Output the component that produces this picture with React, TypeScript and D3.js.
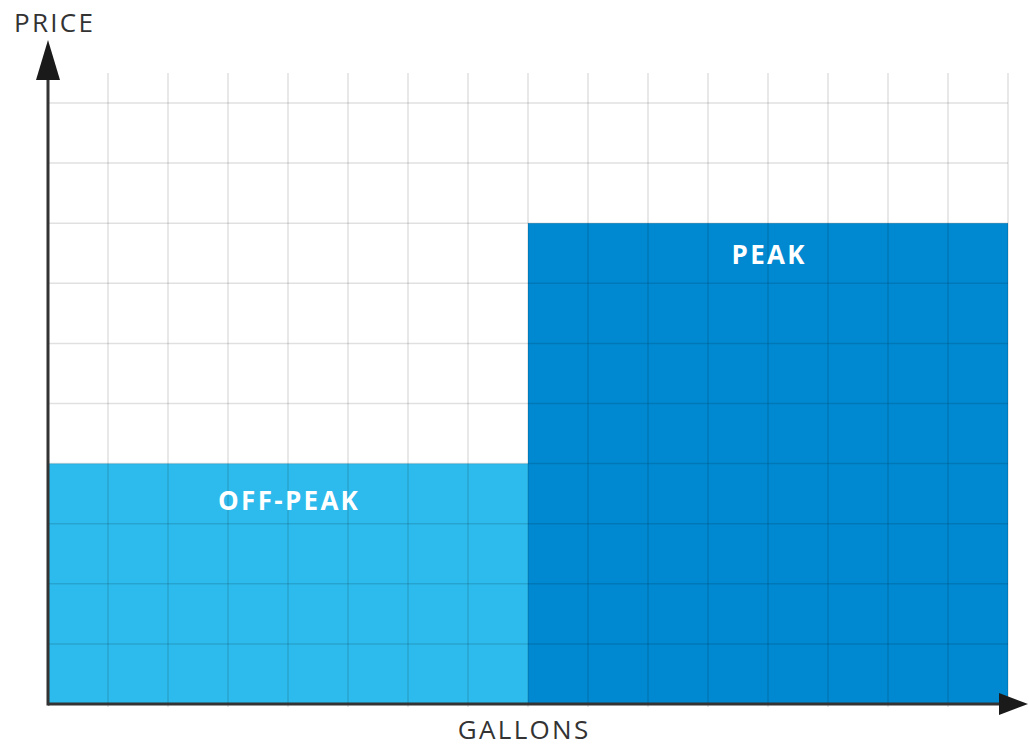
import React from "react";
import * as d3 from "d3";

// Tiered pricing: quantity (gallons) vs price per tier
const tierNames = ["OFF-PEAK", "PEAK"];
const tierStart = [0, 8];
const tierEnd = [8, 16];
const tierPrice = [4, 8];
const tierColors = ["#2DBAEC", "#0089D1"];

const xTicks = d3.range(1, 17);
const yTicks = d3.range(1, 11);

const W = 1029;
const H = 747;

export default function App() {
  const x = d3.scaleLinear().domain([0, 16]).range([48, 1008]);
  const y = d3.scaleLinear().domain([0, 10]).range([704, 103]);
  const font = "'Open Sans', 'Noto Sans', sans-serif";
  const ls = 2.3;

  return (
    <svg
      width={W}
      height={H}
      style={{ position: "absolute", left: 0, top: 0, background: "#fff" }}
    >
      {/* tier bars */}
      {tierNames.map((n, i) => (
        <rect
          key={n}
          x={x(tierStart[i])}
          y={y(tierPrice[i])}
          width={x(tierEnd[i]) - x(tierStart[i])}
          height={y(0) - y(tierPrice[i])}
          fill={tierColors[i]}
        />
      ))}

      {/* grid drawn over the bars */}
      {yTicks.map((t) => (
        <line
          key={"h" + t}
          x1={x(0)}
          x2={x(16)}
          y1={y(t)}
          y2={y(t)}
          stroke="rgba(0,0,0,0.12)"
          strokeWidth={1.5}
        />
      ))}
      {xTicks.map((t) => (
        <line
          key={"v" + t}
          x1={x(t)}
          x2={x(t)}
          y1={y(10.5)}
          y2={y(-0.05)}
          stroke="rgba(0,0,0,0.12)"
          strokeWidth={1.5}
        />
      ))}

      {/* tier labels */}
      {tierNames.map((n, i) => (
        <text
          key={"l" + n}
          x={x((tierStart[i] + tierEnd[i]) / 2) + ls / 2}
          y={y(tierPrice[i]) + (i === 0 ? 46 : 41)}
          textAnchor="middle"
          fill="#fff"
          fontFamily={font}
          fontWeight={700}
          fontSize={26}
          letterSpacing={ls}
        >
          {n}
        </text>
      ))}

      {/* axes */}
      <line x1={x(0)} x2={x(0)} y1={y(0) + 1.5} y2={78} stroke="#333" strokeWidth={3} />
      <line x1={x(0)} x2={1000} y1={y(0)} y2={y(0)} stroke="#333" strokeWidth={3} />
      <path d={`M${x(0)},40 L${x(0) + 12},80 L${x(0) - 12},80 Z`} fill="#1a1a1a" />
      <path d={`M1028,${y(0)} L999,${y(0) - 11} L999,${y(0) + 11} Z`} fill="#1a1a1a" />

      <text x={14} y={32} fill="#333" fontFamily={font} fontSize={26} letterSpacing={ls}>
        PRICE
      </text>
      <text
        x={523 + ls / 2}
        y={739}
        textAnchor="middle"
        fill="#333"
        fontFamily={font}
        fontSize={26}
        letterSpacing={ls}
      >
        GALLONS
      </text>
    </svg>
  );
}
